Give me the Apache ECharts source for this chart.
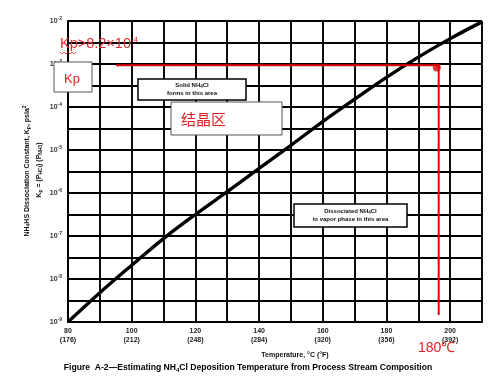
<!DOCTYPE html>
<html>
<head>
<meta charset="utf-8">
<script src="https://cdn.jsdelivr.net/npm/echarts@6/dist/echarts.min.js"></script>
<style>html,body{margin:0;padding:0;background:#fff}#c{width:500px;height:378px}</style>
</head>
<body>
<div id="c"></div>
<script>
// Temperature (°C) and log10(Kp)
var tempC = [80, 90, 100, 110, 120, 130, 140, 150, 160, 170, 180, 190, 200, 210];
var logKp = [-9.0, -8.32, -7.68, -7.06, -6.50, -5.97, -5.43, -4.89, -4.34, -3.82, -3.31, -2.84, -2.41, -2.02];
var xTickC = [80, 100, 120, 140, 160, 180, 200];
var xTickF = ['176', '212', '248', '284', '320', '356', '392'];
var yDecades = [-9, -8, -7, -6, -5, -4, -3, -2];
// red guide: Kp threshold and deposition temperature
var guideT = [95.1, 196.4, 196.4];
var guideLog = [-3.03, -3.03, -8.84];
var dotPoint = [195.8, -3.08];

var font = 'Liberation Sans, Arial, sans-serif';
var chart = echarts.init(document.getElementById('c'));
var curve = tempC.map(function (t, i) { return [t, logKp[i]]; });
var guide = guideT.map(function (t, i) { return [t, guideLog[i]]; });

chart.setOption({
  animation: false,
  backgroundColor: '#fff',
  grid: { left: 68, right: 18, top: 21, bottom: 56 },
  xAxis: {
    type: 'value', min: 80, max: 210, interval: 10,
    axisLine: { show: true, lineStyle: { color: '#000', width: 2 } },
    axisTick: { show: false },
    splitLine: { show: true, lineStyle: { color: '#000', width: 1.9 } },
    axisLabel: {
      margin: 5, color: '#222', fontFamily: font, fontSize: 7, fontWeight: 'bold', lineHeight: 9,
      formatter: function (v) {
        var i = xTickC.indexOf(v);
        return i < 0 ? '' : v + '\n(' + xTickF[i] + ')';
      }
    },
    name: 'Temperature, °C (°F)', nameLocation: 'middle', nameGap: 30,
    nameTextStyle: { color: '#111', fontFamily: font, fontSize: 7, fontWeight: 'bold', padding: [0, 0, 0, 40] }
  },
  yAxis: {
    type: 'value', min: -9, max: -2, interval: 0.5,
    axisLine: { show: true, lineStyle: { color: '#000', width: 2 } },
    axisTick: { show: false },
    splitLine: { show: true, lineStyle: { color: '#000', width: 1.9 } },
    axisLabel: {
      margin: 6, color: '#333', fontFamily: font,
      formatter: function (v) {
        return yDecades.indexOf(v) < 0 ? '' : '{b|10}{s|' + v + '}';
      },
      rich: {
        b: { fontSize: 7, fontWeight: 'bold', color: '#333', fontFamily: font },
        s: { fontSize: 5, fontWeight: 'bold', color: '#333', fontFamily: font, verticalAlign: 'top', padding: [0, 0, 4, 0] }
      }
    }
  },
  series: [
    {
      type: 'line', data: curve, smooth: 0.4, showSymbol: false,
      lineStyle: { color: '#000', width: 3.4 }, z: 5
    },
    {
      type: 'line', data: guide, showSymbol: false,
      lineStyle: { color: '#e00000', width: 2 }, z: 6
    },
    {
      type: 'scatter', data: [dotPoint], symbolSize: 8,
      itemStyle: { color: '#e00000' }, z: 7
    }
  ],
  graphic: [
    // y axis title
    {
      type: 'text', x: 27, y: 171, rotation: Math.PI / 2,
      style: {
        text: '{a|NH}{sub|4}{a|HS Dissociation Constant, K}{sub|p}{a|, psia}{sup|2}',
        align: 'center', verticalAlign: 'middle',
        rich: {
          a: { fontSize: 7, fontWeight: 'bold', fill: '#111', fontFamily: font },
          sub: { fontSize: 5, fontWeight: 'bold', fill: '#111', fontFamily: font, padding: [4, 0, 0, 0] },
          sup: { fontSize: 5, fontWeight: 'bold', fill: '#111', fontFamily: font, padding: [0, 0, 5, 0] }
        }
      }
    },
    {
      type: 'text', x: 39, y: 170, rotation: Math.PI / 2,
      style: {
        text: '{a|K}{sub|p}{a| = (P}{sub|HCl}{a|) (P}{sub|NH3}{a|)}',
        align: 'center', verticalAlign: 'middle',
        rich: {
          a: { fontSize: 7, fontWeight: 'bold', fill: '#111', fontFamily: font },
          sub: { fontSize: 5, fontWeight: 'bold', fill: '#111', fontFamily: font, padding: [4, 0, 0, 0] }
        }
      }
    },
    // caption
    {
      type: 'text', x: 248, y: 368,
      style: {
        text: '{a|Figure  A-2—Estimating NH}{sub|4}{a|Cl Deposition Temperature from Process Stream Composition}',
        align: 'center', verticalAlign: 'middle',
        rich: {
          a: { fontSize: 8.6, fontWeight: 'bold', fill: '#000', fontFamily: font },
          sub: { fontSize: 6, fontWeight: 'bold', fill: '#000', fontFamily: font, padding: [4, 0, 0, 0] }
        }
      }
    },
    // Solid box
    {
      type: 'rect', shape: { x: 138, y: 79, width: 108, height: 21 },
      style: { fill: '#fff', stroke: '#000', lineWidth: 1.5 }, z: 10
    },
    {
      type: 'text', x: 192, y: 89.5, z: 11,
      style: {
        text: '{a|Solid NH}{sub|4}{a|Cl}\n{a|forms in this area}',
        align: 'center', verticalAlign: 'middle',
        rich: {
          a: { fontSize: 6, fontWeight: 'bold', fill: '#111', fontFamily: font, lineHeight: 8 },
          sub: { fontSize: 4.5, fontWeight: 'bold', fill: '#111', fontFamily: font, padding: [3, 0, 0, 0], lineHeight: 8 }
        }
      }
    },
    // Dissociated box
    {
      type: 'rect', shape: { x: 294, y: 204, width: 113, height: 23 },
      style: { fill: '#fff', stroke: '#000', lineWidth: 1.5 }, z: 10
    },
    {
      type: 'text', x: 350.5, y: 215.5, z: 11,
      style: {
        text: '{a|Dissociated NH}{sub|4}{a|Cl}\n{a|in vapor phase in this area}',
        align: 'center', verticalAlign: 'middle',
        rich: {
          a: { fontSize: 6, fontWeight: 'bold', fill: '#111', fontFamily: font, lineHeight: 8 },
          sub: { fontSize: 4.5, fontWeight: 'bold', fill: '#111', fontFamily: font, padding: [3, 0, 0, 0], lineHeight: 8 }
        }
      }
    },
    // 结晶区 box
    {
      type: 'rect', shape: { x: 171, y: 102, width: 111, height: 33 },
      style: { fill: '#fff', stroke: '#555', lineWidth: 1 }, z: 10
    },
    {
      type: 'text', x: 181, y: 119, z: 11,
      style: { text: '结晶区', fill: '#e02020', fontSize: 15, fontFamily: 'Noto Sans CJK SC', verticalAlign: 'middle' }
    },
    // Kp box
    {
      type: 'rect', shape: { x: 54, y: 62, width: 38, height: 30 },
      style: { fill: '#fff', stroke: '#555', lineWidth: 1 }, z: 10
    },
    {
      type: 'text', x: 64, y: 79, z: 11,
      style: { text: 'Kp', fill: '#e02020', fontSize: 13, fontFamily: font, verticalAlign: 'middle' }
    },
    // Kp threshold label
    {
      type: 'text', x: 60, y: 44, z: 11,
      style: {
        text: '{a|Kp>8.2×10}{s|-4}',
        verticalAlign: 'middle',
        rich: {
          a: { fontSize: 14.5, fill: '#e03030', fontFamily: font },
          s: { fontSize: 8, fill: '#e03030', fontFamily: font, padding: [0, 0, 9, 0] }
        }
      }
    },
    {
      type: 'polyline', z: 11,
      shape: { points: [[60, 52], [62, 54], [64, 52], [66, 54], [68, 52], [70, 54], [72, 52], [74, 54], [76, 52]] },
      style: { stroke: '#e03030', lineWidth: 0.8, fill: null }
    },
    // 180℃ label
    {
      type: 'text', x: 418, y: 348, z: 11,
      style: { text: '180℃', fill: '#e02020', fontSize: 14, fontFamily: font, verticalAlign: 'middle' }
    }
  ]
});
</script>
</body>
</html>
